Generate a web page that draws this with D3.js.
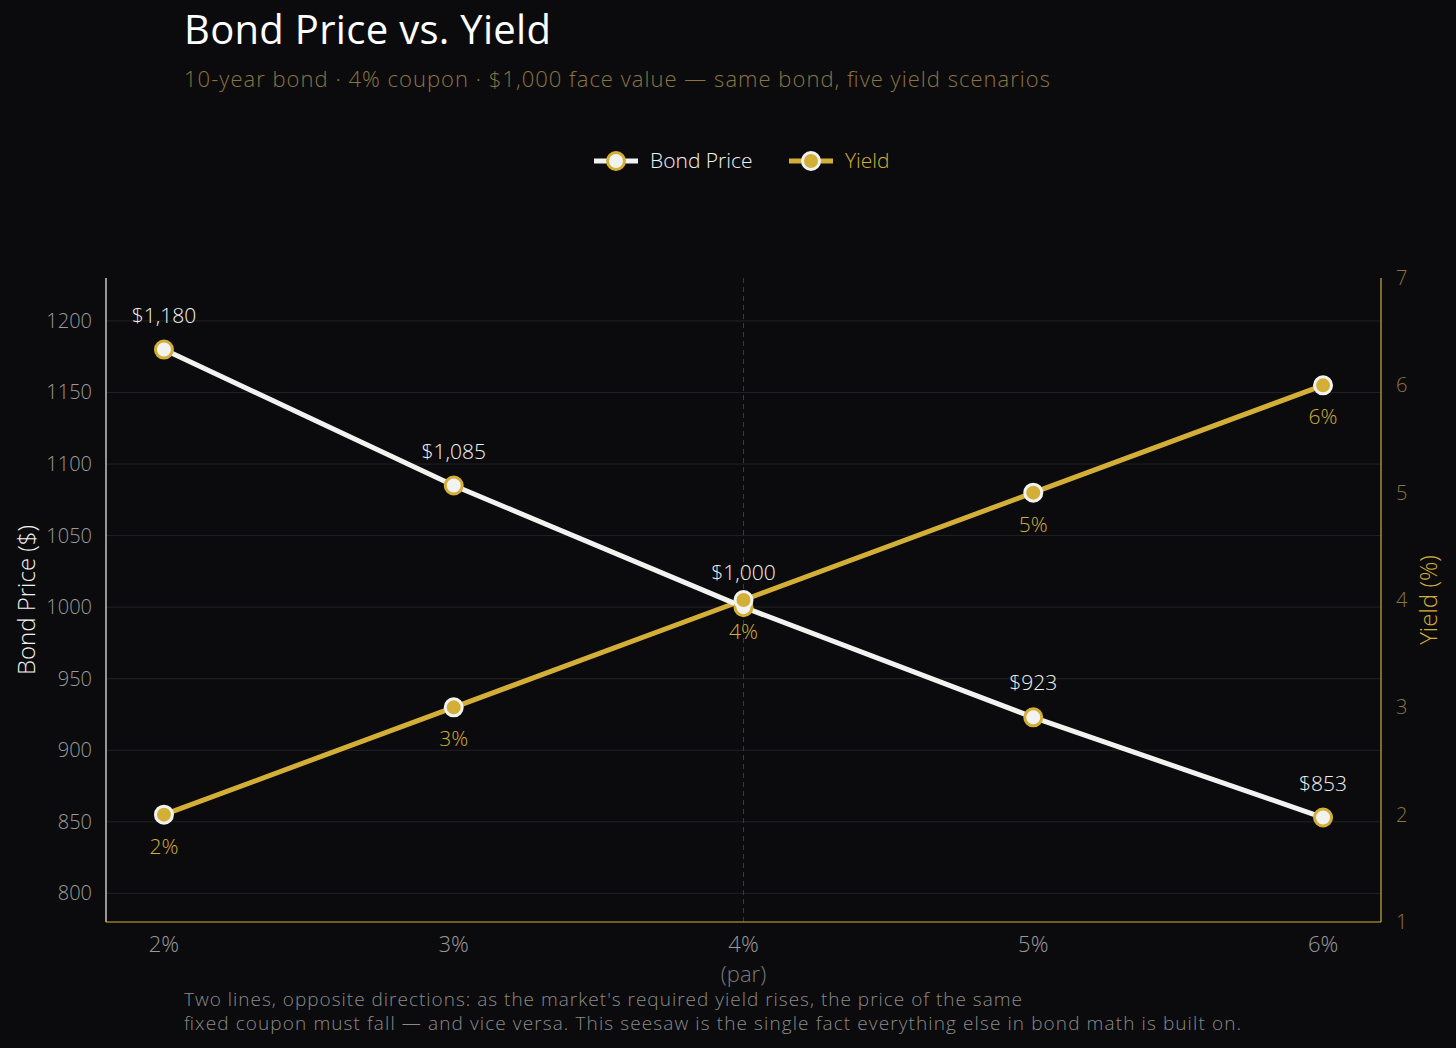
<!DOCTYPE html>
<html><head><meta charset="utf-8">
<script src="https://cdn.jsdelivr.net/npm/d3@7"></script>
<style>
body{margin:0;background:#0b0b0d;}
text{font-family:"Open Sans",Lato,sans-serif;font-weight:300;}
</style></head>
<body><svg id="c" width="1456" height="1048"></svg>
<script>
// data
var scenarios = ['2%', '3%', '4%', '5%', '6%'];
var prices = [1180, 1085, 1000, 923, 853];
var yields = [2, 3, 4, 5, 6];
var priceTicks = [800, 850, 900, 950, 1000, 1050, 1100, 1150, 1200];
var yieldTicks = [1, 2, 3, 4, 5, 6, 7];

var gold = '#d4af37', white = '#f2f2f0', dimGold = '#8c7442';
var svg = d3.select('#c');
svg.append('rect').attr('width', 1456).attr('height', 1048).attr('fill', '#0b0b0d');

var L = 106, R = 1381, T = 278, B = 922;
var x = d3.scalePoint().domain(scenarios).range([L, R]).padding(0.2);
var yP = d3.scaleLinear().domain([780, 1230]).range([B, T]);
var yY = d3.scaleLinear().domain([1, 7]).range([B, T]);

// title
svg.append('text').attr('x', 184).attr('y', 44).attr('fill', '#fff').attr('font-size', 40).style('font-weight', 400)
  .attr('textLength', 367).text('Bond Price vs. Yield');
svg.append('text').attr('x', 184).attr('y', 87).attr('fill', dimGold).attr('font-size', 22)
  .attr('textLength', 866).text('10-year bond · 4% coupon · $1,000 face value — same bond, five yield scenarios');

// grid
svg.selectAll('.g').data(priceTicks).enter().append('line')
  .attr('x1', L).attr('x2', R).attr('y1', d => yP(d)).attr('y2', d => yP(d))
  .attr('stroke', '#222226').attr('stroke-width', 1);
svg.append('line').attr('x1', x('4%')).attr('x2', x('4%')).attr('y1', T).attr('y2', B)
  .attr('stroke', '#3a3a3e').attr('stroke-dasharray', '5,4');

// axes
svg.append('line').attr('x1', L).attr('x2', L).attr('y1', T).attr('y2', B).attr('stroke', white).attr('stroke-width', 1.2);
svg.append('line').attr('x1', R).attr('x2', R).attr('y1', T).attr('y2', B).attr('stroke', gold).attr('stroke-width', 1.2);
svg.append('line').attr('x1', L).attr('x2', R).attr('y1', B).attr('y2', B).attr('stroke', gold).attr('stroke-width', 1.2);

svg.selectAll('.pt').data(priceTicks).enter().append('text')
  .attr('x', 92).attr('y', d => yP(d) + 7).attr('text-anchor', 'end')
  .attr('fill', '#9a9a9a').attr('font-size', 20).text(d => d);
svg.selectAll('.yt').data(yieldTicks).enter().append('text')
  .attr('x', 1396).attr('y', d => yY(d) + 7)
  .attr('fill', dimGold).attr('font-size', 20).text(d => d);
svg.selectAll('.xt').data(scenarios).enter().append('text')
  .attr('x', d => x(d)).attr('y', 952).attr('text-anchor', 'middle')
  .attr('fill', '#9a9a9a').attr('font-size', 22).text(d => d);
svg.append('text').attr('x', x('4%')).attr('y', 982).attr('text-anchor', 'middle')
  .attr('fill', '#7a7a7a').attr('font-size', 22).text('(par)');

svg.append('text').attr('transform', 'translate(35,600) rotate(-90)').attr('text-anchor', 'middle')
  .attr('fill', white).attr('font-size', 24).text('Bond Price ($)');
svg.append('text').attr('transform', 'translate(1437,600) rotate(-90)').attr('text-anchor', 'middle')
  .attr('fill', gold).attr('font-size', 24).text('Yield (%)');

// lines
var lp = d3.line().x((d, i) => x(scenarios[i])).y(d => yP(d));
var ly = d3.line().x((d, i) => x(scenarios[i])).y(d => yY(d));
svg.append('path').attr('d', ly(yields)).attr('fill', 'none').attr('stroke', gold).attr('stroke-width', 5);
svg.append('path').attr('d', lp(prices)).attr('fill', 'none').attr('stroke', white).attr('stroke-width', 5);

svg.selectAll('.pm').data(prices).enter().append('circle')
  .attr('cx', (d, i) => x(scenarios[i])).attr('cy', d => yP(d)).attr('r', 8.5)
  .attr('fill', white).attr('stroke', gold).attr('stroke-width', 3);
svg.selectAll('.ym').data(yields).enter().append('circle')
  .attr('cx', (d, i) => x(scenarios[i])).attr('cy', d => yY(d)).attr('r', 8.5)
  .attr('fill', gold).attr('stroke', white).attr('stroke-width', 3);

svg.selectAll('.pl').data(prices).enter().append('text')
  .attr('x', (d, i) => x(scenarios[i])).attr('y', d => yP(d) - 27).attr('text-anchor', 'middle')
  .attr('fill', white).attr('font-size', 21).text(d => '$' + d3.format(',')(d));
svg.selectAll('.yl').data(yields).enter().append('text')
  .attr('x', (d, i) => x(scenarios[i])).attr('y', d => yY(d) + 39).attr('text-anchor', 'middle')
  .attr('fill', gold).attr('font-size', 21).text(d => d + '%');

// legend
function legend(x0, line, fill, stroke, label, col) {
  svg.append('line').attr('x1', x0).attr('x2', x0 + 44).attr('y1', 161).attr('y2', 161).attr('stroke', line).attr('stroke-width', 5);
  svg.append('circle').attr('cx', x0 + 22).attr('cy', 161).attr('r', 8.5).attr('fill', fill).attr('stroke', stroke).attr('stroke-width', 3);
  svg.append('text').attr('x', x0 + 56).attr('y', 168).attr('fill', col).attr('font-size', 21).text(label);
}
legend(594, white, white, gold, 'Bond Price', white);
legend(789, gold, gold, white, 'Yield', gold);

// footnote
svg.append('text').attr('x', 184).attr('y', 1006).attr('fill', '#8a8a8a').attr('font-size', 19)
  .attr('textLength', 838).text("Two lines, opposite directions: as the market's required yield rises, the price of the same");
svg.append('text').attr('x', 184).attr('y', 1030).attr('fill', '#8a8a8a').attr('font-size', 19)
  .attr('textLength', 1057).text('fixed coupon must fall — and vice versa. This seesaw is the single fact everything else in bond math is built on.');
</script></body></html>
